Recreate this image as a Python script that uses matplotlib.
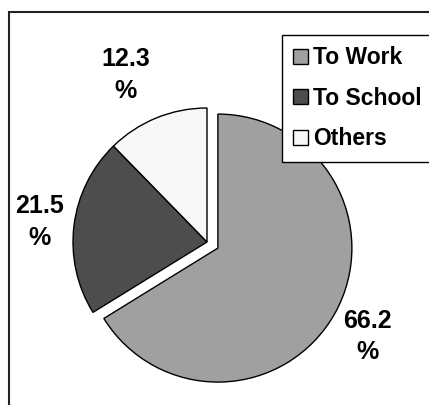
import matplotlib
matplotlib.use("Agg")
import matplotlib.pyplot as plt

# trip purpose shares (%)
categories = ["To Work", "To School", "Others"]
shares = [66.2, 21.5, 12.3]
colors = ["#a0a0a0", "#4d4d4d", "#f8f8f8"]

plt.rcParams["font.family"] = ["Liberation Sans", "DejaVu Sans"]
plt.rcParams["font.weight"] = "bold"

W, H = 429, 405
fig = plt.figure(figsize=(W / 100, H / 100), dpi=100)
ax = fig.add_axes([0, 0, 1, 1])

# work in pixel units: pie centre and radius in px
cx, cy, r = 207, H - 242, 134
explode = [0.093 * r, 0, 0]
wedges, _ = ax.pie(shares, colors=colors, explode=explode, startangle=90,
                   counterclock=False, center=(cx, cy), radius=r,
                   wedgeprops=dict(edgecolor="black", linewidth=1.0))

ax.set_xlim(0, W)
ax.set_ylim(0, H)
ax.set_aspect("equal")
ax.axis("off")

# value labels, number above the percent sign
label_pos = [(367.5, H - 336.5), (39.5, H - 222), (125.5, H - 75)]
for val, (x, y) in zip(shares, label_pos):
    ax.text(x, y, f"{val}\n%", ha="center", va="center", fontsize=18,
            fontweight="bold", linespacing=1.38)

# outer chart border (right and bottom edges fall off the canvas)
ax.plot([9, 9, W + 5], [-5, H - 12, H - 12], color="#222222", lw=1.5,
        solid_joinstyle="miter", clip_on=False)

leg = ax.legend(wedges, categories, loc="upper left",
                bbox_to_anchor=(282 / W, 1 - 35 / H), borderaxespad=0,
                frameon=True, fancybox=False, framealpha=1,
                edgecolor="black", handlelength=0.62, handleheight=0.62,
                handletextpad=0.25, labelspacing=0.76, borderpad=0.5,
                prop=dict(weight="bold", size=16.5))
leg.get_frame().set_linewidth(1.0)

fig.savefig("out.png", dpi=100)
